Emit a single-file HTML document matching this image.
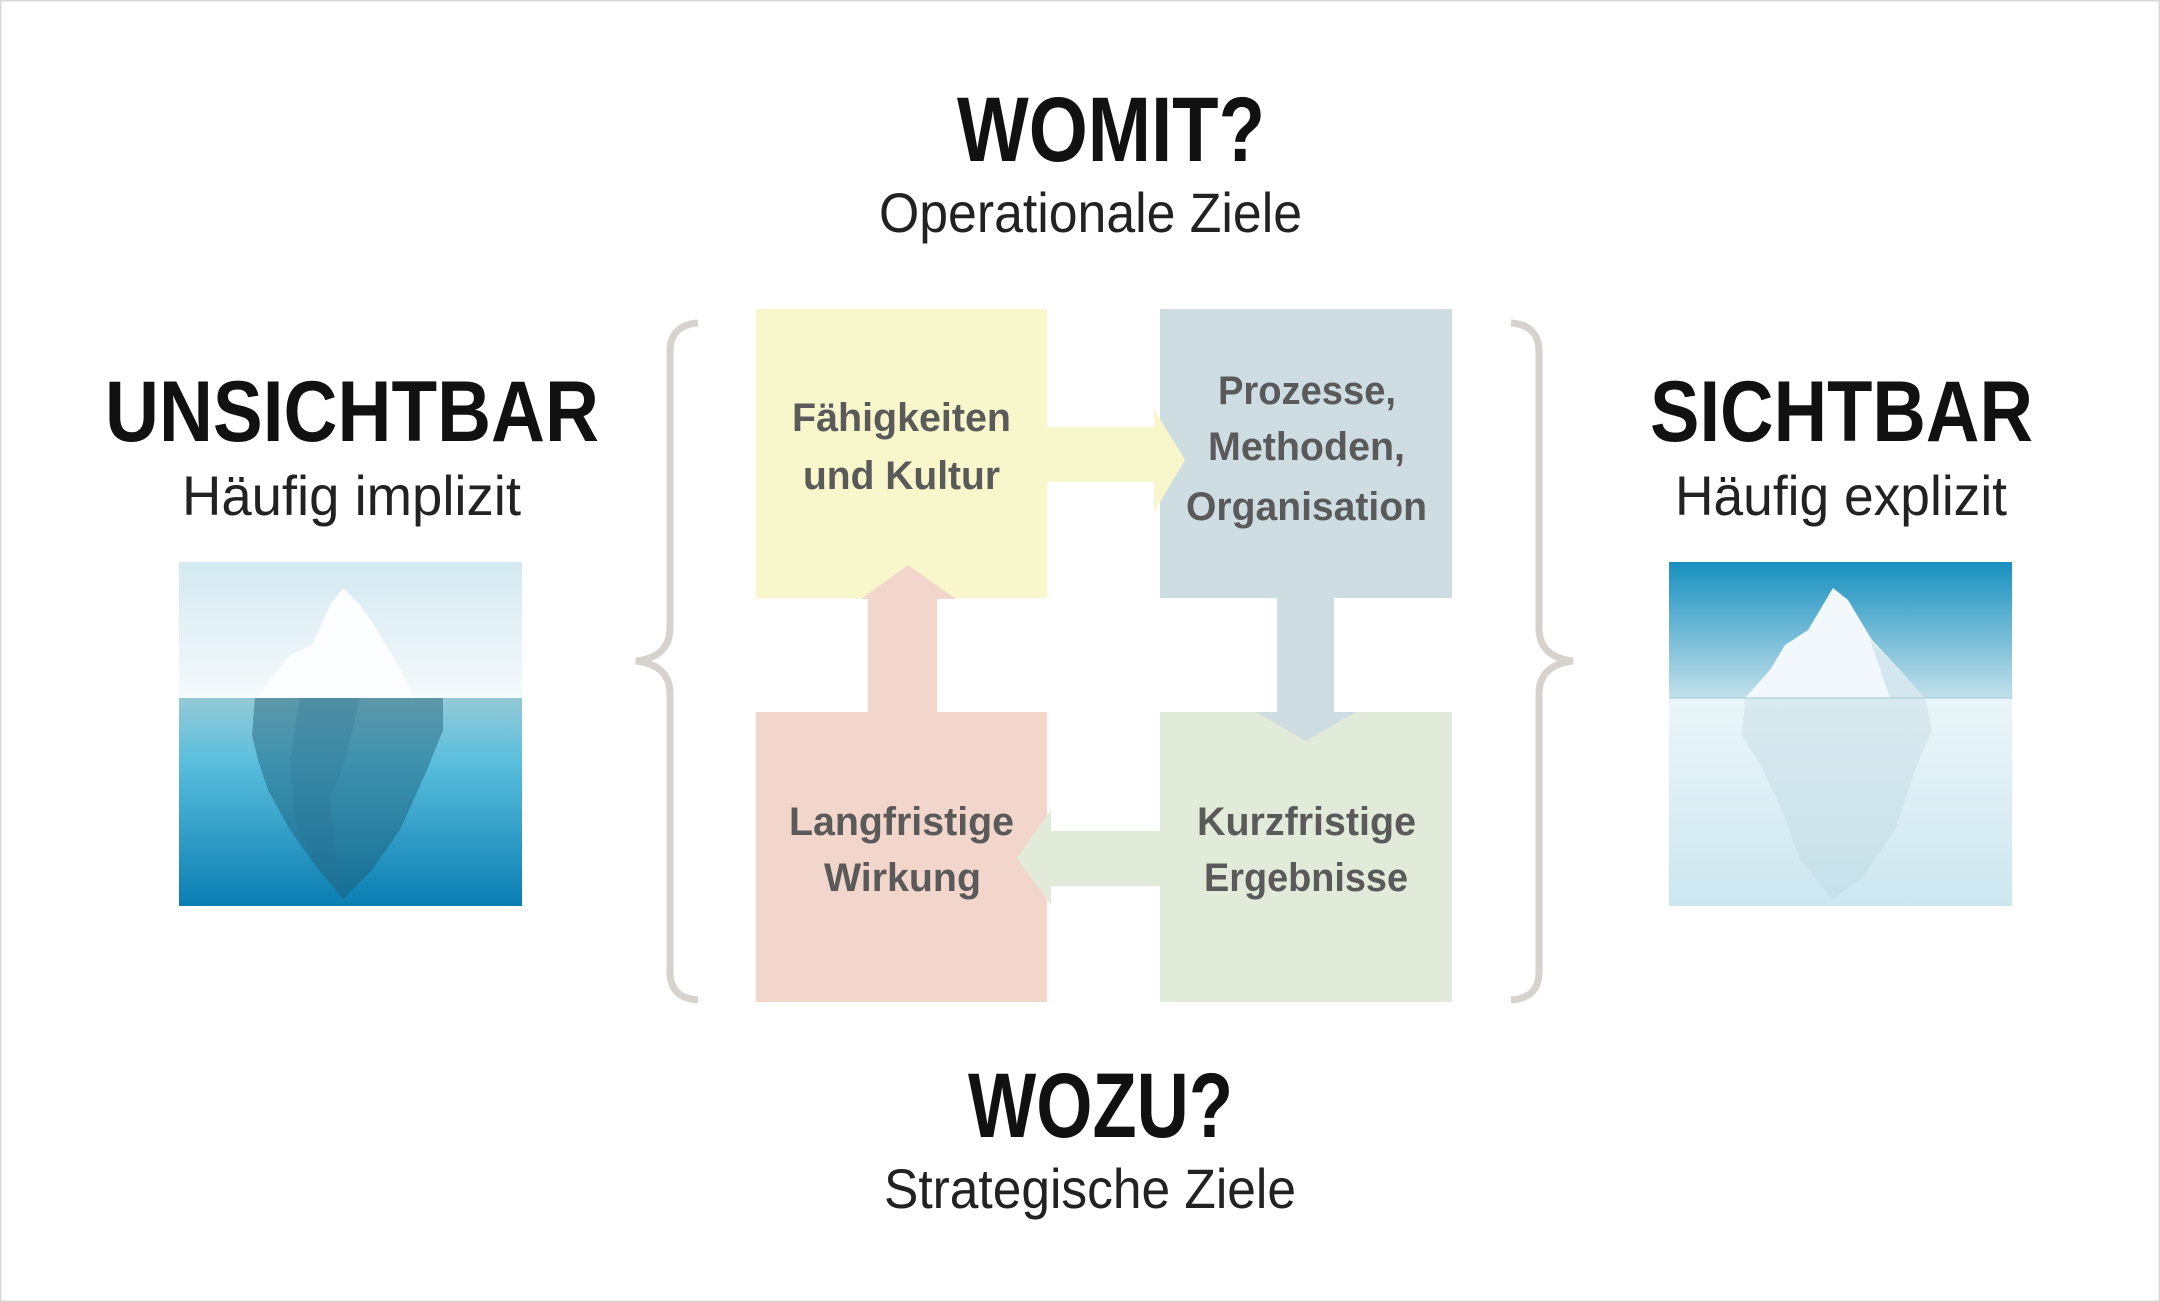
<!DOCTYPE html>
<html><head><meta charset="utf-8"><style>
html,body{margin:0;padding:0;background:#fff}
svg{display:block}
text{font-family:"Liberation Sans",sans-serif}
</style></head><body>
<svg width="2160" height="1302" viewBox="0 0 2160 1302" xmlns="http://www.w3.org/2000/svg">
<defs>
<linearGradient id="sky1" x1="0" y1="0" x2="0" y2="1"><stop offset="0" stop-color="#d3e9f1"/><stop offset="1" stop-color="#f5fafc"/></linearGradient>
<linearGradient id="sea1" x1="0" y1="0" x2="0" y2="1"><stop offset="0" stop-color="#94c9d6"/><stop offset="0.3" stop-color="#5bbfdd"/><stop offset="1" stop-color="#0a7db2"/></linearGradient>
<linearGradient id="sky2" x1="0" y1="0" x2="0" y2="1"><stop offset="0" stop-color="#1890c0"/><stop offset="1" stop-color="#c2e0ea"/></linearGradient>
<linearGradient id="sea2" x1="0" y1="0" x2="0" y2="1"><stop offset="0" stop-color="#eaf6f9"/><stop offset="1" stop-color="#cde6f0"/></linearGradient>
</defs>
<rect x="0.5" y="0.5" width="2159" height="1301" fill="#fff" stroke="#d8d8d8" stroke-width="2"/>

<!-- titles -->
<text x="957" y="161" font-size="92" font-weight="bold" fill="#111" textLength="308" lengthAdjust="spacingAndGlyphs">WOMIT?</text>
<text x="879" y="232" font-size="56" fill="#222" textLength="423" lengthAdjust="spacingAndGlyphs">Operationale Ziele</text>
<text x="105" y="441" font-size="86" font-weight="bold" fill="#111" textLength="494" lengthAdjust="spacingAndGlyphs">UNSICHTBAR</text>
<text x="182" y="515" font-size="56" fill="#222" textLength="339" lengthAdjust="spacingAndGlyphs">Häufig implizit</text>
<text x="1650" y="441" font-size="86" font-weight="bold" fill="#111" textLength="383" lengthAdjust="spacingAndGlyphs">SICHTBAR</text>
<text x="1675" y="515" font-size="56" fill="#222" textLength="332" lengthAdjust="spacingAndGlyphs">Häufig explizit</text>
<text x="968" y="1137" font-size="92" font-weight="bold" fill="#111" textLength="265" lengthAdjust="spacingAndGlyphs">WOZU?</text>
<text x="884" y="1208" font-size="56" fill="#222" textLength="412" lengthAdjust="spacingAndGlyphs">Strategische Ziele</text>

<!-- braces -->
<path d="M698,323 Q670,325 670,352 L670,628 Q670,657 636,661 Q670,665 670,694 L670,972 Q670,998 698,1000" fill="none" stroke="#d6d2cd" stroke-width="7"/>
<path d="M1511,323 Q1539,325 1539,352 L1539,628 Q1539,657 1573,661 Q1539,665 1539,694 L1539,972 Q1539,998 1511,1000" fill="none" stroke="#d6d2cd" stroke-width="7"/>

<!-- boxes -->
<rect x="756" y="309" width="291" height="289" fill="#f8f7cc"/>
<rect x="1160" y="309" width="292" height="289" fill="#cddde2"/>
<rect x="756" y="712" width="291" height="290" fill="#f2d5cb"/>
<rect x="1160" y="712" width="292" height="290" fill="#e2ead9"/>

<!-- arrows -->
<polygon points="1047,427 1154,427 1154,409 1185,460 1154,512 1154,482 1047,482" fill="#f8f7cc"/>
<polygon points="1277,598 1334,598 1334,712 1356,712 1306,741 1256,712 1277,712" fill="#cddde2"/>
<polygon points="1160,831 1051,831 1051,810 1017,858 1051,905 1051,886 1160,886" fill="#e2ead9"/>
<polygon points="868,712 937,712 937,599 956,599 908,565 861,599 868,599" fill="#f2d5cb"/>

<!-- box text -->
<g font-size="40" font-weight="bold" fill="#5a5a5a">
<text x="792" y="431" textLength="219" lengthAdjust="spacingAndGlyphs">Fähigkeiten</text>
<text x="803" y="489" textLength="197" lengthAdjust="spacingAndGlyphs">und Kultur</text>
<text x="1218" y="404" textLength="178" lengthAdjust="spacingAndGlyphs">Prozesse,</text>
<text x="1208" y="460" textLength="197" lengthAdjust="spacingAndGlyphs">Methoden,</text>
<text x="1186" y="520" textLength="241" lengthAdjust="spacingAndGlyphs">Organisation</text>
<text x="789" y="835" textLength="225" lengthAdjust="spacingAndGlyphs">Langfristige</text>
<text x="824" y="891" textLength="157" lengthAdjust="spacingAndGlyphs">Wirkung</text>
<text x="1197" y="835" textLength="219" lengthAdjust="spacingAndGlyphs">Kurzfristige</text>
<text x="1204" y="891" textLength="204" lengthAdjust="spacingAndGlyphs">Ergebnisse</text>
</g>

<!-- left iceberg -->
<rect x="179" y="562" width="343" height="136" fill="url(#sky1)"/>
<rect x="179" y="698" width="343" height="208" fill="url(#sea1)"/>
<polygon points="256,698 290,655 312,645 330,605 343,588 360,605 372,622 395,660 415,698" fill="#fbfdfe"/>
<polygon points="255,698 443,698 443,730 427,770 400,830 372,870 343,899 315,865 290,830 268,790 258,760 252,735" fill="#1c5a74" opacity="0.45"/>
<polygon points="300,698 360,698 345,760 330,800 335,850 343,899 315,865 295,820 290,760" fill="#2a7090" opacity="0.25"/>

<!-- right iceberg -->
<rect x="1669" y="562" width="343" height="136" fill="url(#sky2)"/>
<rect x="1669" y="698" width="343" height="208" fill="url(#sea2)"/>
<polygon points="1745,698 1770,670 1785,645 1808,630 1833,588 1848,600 1872,640 1900,670 1925,698" fill="#f2f8fb"/>
<polygon points="1870,640 1900,670 1925,698 1890,698" fill="#c8e0ea" opacity="0.7"/>
<line x1="1669" y1="698" x2="2012" y2="698" stroke="#9cc5d2" stroke-width="1"/>
<polygon points="1745,698 1925,698 1932,730 1915,770 1895,830 1860,880 1833,899 1800,860 1782,810 1763,770 1742,735" fill="#b9d3dc" opacity="0.35"/>
</svg>
</body></html>
